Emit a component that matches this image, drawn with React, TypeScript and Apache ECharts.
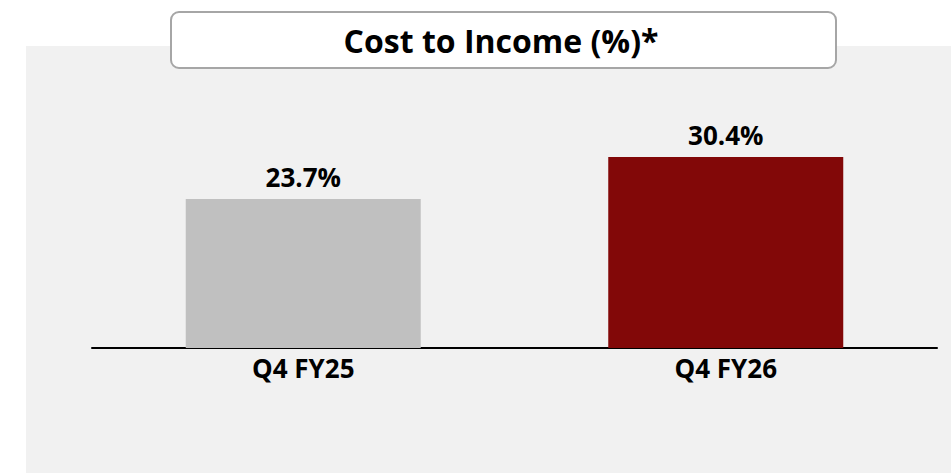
import React, { useEffect, useRef } from "react";
import * as echarts from "echarts";

const categories = ["Q4 FY25", "Q4 FY26"];
const values = [23.7, 30.4];
const barColors = ["#c0c0c0", "#820808"];
const titleText = "Cost to Income (%)*";

export default function App() {
  const ref = useRef<HTMLDivElement>(null);
  useEffect(() => {
    if (!ref.current) return;
    const chart = echarts.init(ref.current, undefined, { renderer: "svg" });
    const font = "'Open Sans', 'Noto Sans', sans-serif";
    chart.setOption({
      animation: false,
      backgroundColor: "#ffffff",
      graphic: [
        {
          type: "rect",
          left: 26,
          top: 46,
          shape: { width: 925, height: 427 },
          style: { fill: "#f1f1f1" },
          z: -10,
        },
        {
          type: "rect",
          left: 170,
          top: 11,
          shape: { width: 665, height: 56, r: 8 },
          style: { fill: "#ffffff", stroke: "#a6a6a6", lineWidth: 2 },
          z: 10,
        },
        {
          type: "text",
          x: 501,
          y: 40,
          style: {
            text: titleText,
            fill: "#000",
            font: `bold 32px ${font}`,
            align: "center",
            verticalAlign: "middle",
          },
          z: 11,
        },
      ],
      grid: { left: 92, right: 14, top: 96.6, bottom: 125, containLabel: false },
      xAxis: {
        type: "category",
        data: categories,
        axisLine: { show: true, lineStyle: { color: "#000", width: 2 } },
        axisTick: { show: false },
        axisLabel: {
          color: "#000",
          fontSize: 26,
          fontWeight: "bold",
          fontFamily: font,
          margin: 7,
        },
      },
      yAxis: {
        type: "value",
        min: 0,
        max: 40,
        show: false,
        splitLine: { show: false },
      },
      series: [
        {
          type: "bar",
          barWidth: 235,
          data: values.map((v, i) => ({ value: v, itemStyle: { color: barColors[i] } })),
          label: {
            show: true,
            position: "top",
            distance: 9,
            color: "#000",
            fontSize: 26,
            fontWeight: "bold",
            fontFamily: font,
            formatter: (p: any) => `${p.value.toFixed(1)}%`,
          },
        },
      ],
    });
    return () => chart.dispose();
  }, []);
  return (
    <div
      ref={ref}
      style={{ position: "absolute", left: 0, top: 0, width: 951, height: 473 }}
    />
  );
}
